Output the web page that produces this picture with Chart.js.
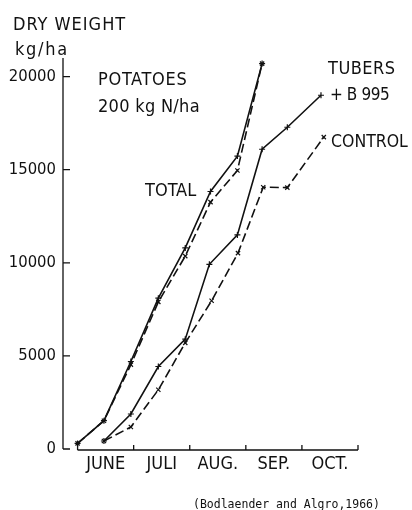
<!DOCTYPE html>
<html>
<head>
<meta charset="utf-8">
<script src="https://cdn.jsdelivr.net/npm/chart.js@4"></script>
<style>
  html, body { margin: 0; padding: 0; background: #fff; }
  #c { display: block; }
</style>
</head>
<body>
<canvas id="c" width="412" height="510"></canvas>
<script>
// ---- data (x in months after 1 June) ----
const months = ['JUNE', 'JULI', 'AUG.', 'SEP.', 'OCT.'];
const yTickValues = [0, 5000, 10000, 15000, 20000];

const totalDates = [0.0, 0.47, 0.95, 1.44, 1.92, 2.37, 2.85, 3.29];
const totalB995 = [300, 1520, 4700, 8100, 10800, 13830, 15730, 20700];
const totalControl = [300, 1520, 4530, 7900, 10360, 13260, 14960, 20700];

const tuberB995Dates = [0.47, 0.95, 1.44, 1.92, 2.35, 2.85, 3.29, 3.74, 4.34];
const tuberB995 = [430, 1880, 4430, 5900, 9920, 11500, 16100, 17280, 19000];
const tuberControlDates = [0.47, 0.95, 1.44, 1.92, 2.39, 2.86, 3.31, 3.74, 4.39];
const tuberControl = [430, 1180, 3180, 5700, 7960, 10520, 14060, 14040, 16750];

const INK = '#111';
const FONT = '"DejaVu Sans Condensed", "Liberation Sans", sans-serif';
const pts = (xs, ys) => xs.map((x, i) => ({ x: x, y: ys[i] }));

function series(label, xs, ys, dashed) {
  return {
    label: label,
    data: pts(xs, ys),
    borderColor: INK,
    backgroundColor: INK,
    borderWidth: 1.6,
    borderDash: dashed ? [9, 4] : [],
    pointStyle: dashed ? 'crossRot' : 'cross',
    pointRadius: 3,
    pointBorderWidth: 1.2,
    pointBorderColor: INK,
    tension: 0,
    fill: false,
    clip: false
  };
}

const annotations = {
  id: 'annotations',
  afterDraw(chart) {
    const ctx = chart.ctx;
    const x = chart.scales.x, y = chart.scales.y;
    const area = chart.chartArea;
    ctx.save();
    ctx.strokeStyle = INK;
    ctx.lineWidth = 1.3;
    ctx.setLineDash([]);
    // y axis
    const y0 = y.getPixelForValue(0);
    ctx.beginPath();
    ctx.moveTo(area.left, area.top);
    ctx.lineTo(area.left, y0);
    yTickValues.forEach(v => {
      const py = y.getPixelForValue(v);
      ctx.moveTo(area.left, py);
      ctx.lineTo(area.left + 7, py);
    });
    ctx.stroke();
    // x axis
    const xa = y0 + 1;
    ctx.beginPath();
    ctx.moveTo(x.getPixelForValue(0), xa);
    ctx.lineTo(x.getPixelForValue(months.length), xa);
    for (let i = 0; i <= months.length; i++) {
      const px = x.getPixelForValue(i);
      ctx.moveTo(px, xa);
      ctx.lineTo(px, xa - 5);
    }
    ctx.stroke();

    // texts
    ctx.fillStyle = INK;
    ctx.textBaseline = 'alphabetic';
    ctx.textAlign = 'left';
    const t = (s, px, py, size, ls) => {
      ctx.font = size + 'px ' + FONT;
      ctx.letterSpacing = (ls || 0) + 'px';
      ctx.fillText(s, px, py);
    };
    t('DRY WEIGHT', 13, 30, 18, 1);
    t('kg/ha', 15, 55, 18, 1.7);
    t('POTATOES', 98, 85, 18, 0.7);
    t('200 kg N/ha', 98, 112, 18, 0.3);
    t('TOTAL', 145, 196, 18, 0);
    t('TUBERS', 328, 74, 18, 0.5);
    t('+ B 995', 330, 100, 17, -0.4);
    t('CONTROL', 331, 147, 17.5, 0);
    ctx.font = '11.5px "DejaVu Sans Mono", monospace';
    ctx.letterSpacing = '0px';
    ctx.fillText('(Bodlaender and Algro,1966)', 193, 508);
    ctx.restore();
  }
};

new Chart(document.getElementById('c'), {
  type: 'line',
  data: {
    datasets: [
      series('Total + B 995', totalDates, totalB995, false),
      series('Total control', totalDates, totalControl, true),
      series('Tubers + B 995', tuberB995Dates, tuberB995, false),
      series('Tubers control', tuberControlDates, tuberControl, true)
    ]
  },
  options: {
    responsive: false,
    animation: false,
    devicePixelRatio: 1,
    layout: { padding: { top: 58, right: 54, left: 0, bottom: 0 } },
    plugins: { legend: { display: false }, tooltip: { enabled: false }, title: { display: false } },
    scales: {
      x: {
        type: 'linear',
        min: -0.26,
        max: 5.0,
        border: { display: false },
        grid: { display: false, drawTicks: false },
        afterBuildTicks: s => { s.ticks = months.map((m, i) => ({ value: i + 0.5 })); },
        afterFit: s => { s.height = 61; },
        ticks: {
          autoSkip: false,
          maxRotation: 0,
          padding: 5,
          color: INK,
          font: { family: FONT, size: 18 },
          callback: (v, i) => months[i]
        }
      },
      y: {
        type: 'linear',
        min: 0,
        max: 21000,
        border: { display: false },
        grid: { display: false, drawTicks: false },
        afterBuildTicks: s => { s.ticks = yTickValues.map(v => ({ value: v })); },
        afterFit: s => { s.width = 63; },
        ticks: {
          padding: 7,
          color: INK,
          font: { family: FONT, size: 16.5 },
          callback: v => String(v)
        }
      }
    }
  },
  plugins: [annotations]
});
</script>
</body>
</html>
